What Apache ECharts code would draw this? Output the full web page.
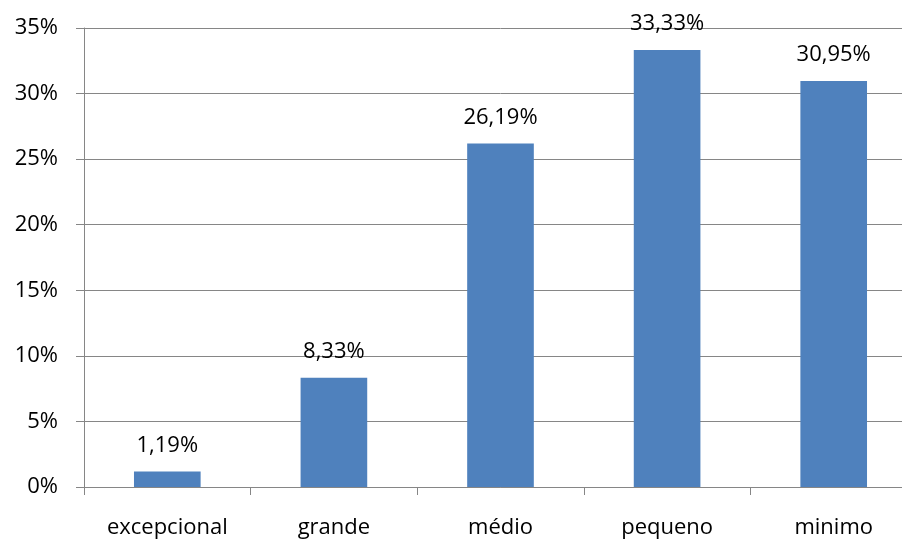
<!DOCTYPE html>
<html>
<head>
<meta charset="utf-8">
<script src="https://cdn.jsdelivr.net/npm/echarts@6/dist/echarts.min.js"></script>
<style>
  html, body { margin: 0; padding: 0; background: #ffffff; overflow: hidden; }
  #wrap { width: 902px; height: 541px; overflow: hidden; }
  #chart { width: 917px; height: 541px; }
</style>
</head>
<body>
<div id="wrap"><div id="chart"></div></div>
<script>
// Categories and shares (percent)
const categories = ['excepcional', 'grande', 'médio', 'pequeno', 'minimo'];
const shares = [1.19, 8.33, 26.19, 33.33, 30.95];
const yTicks = [0, 5, 10, 15, 20, 25, 30, 35];

const fontFamily = 'Open Sans, Liberation Sans, sans-serif';
const gray = '#868686';
const fontSize = 22;

const chart = echarts.init(document.getElementById('chart'), null, { renderer: 'canvas' });
chart.setOption({
  animation: false,
  grid: { left: 84, right: 0, top: 28, bottom: 54, containLabel: false },
  xAxis: {
    type: 'category',
    data: categories,
    axisLine: { lineStyle: { color: gray, width: 1 } },
    axisTick: { show: true, length: 8, lineStyle: { color: gray } },
    axisLabel: { color: '#000', fontSize: fontSize, fontFamily: fontFamily, margin: 30 },
    splitLine: { show: false }
  },
  yAxis: {
    type: 'value',
    min: yTicks[0],
    max: yTicks[yTicks.length - 1],
    interval: 5,
    axisLine: { show: true, lineStyle: { color: gray, width: 1 } },
    axisTick: { show: true, length: 8, lineStyle: { color: gray } },
    axisLabel: {
      color: '#000', fontSize: fontSize, fontFamily: fontFamily, margin: 26,
      formatter: v => v + '%'
    },
    splitLine: { show: true, lineStyle: { color: gray, width: 1 } }
  },
  series: [{
    type: 'bar',
    data: shares,
    barWidth: '40%',
    itemStyle: { color: '#4F81BD' },
    label: {
      show: true,
      position: 'top',
      distance: 15,
      color: '#000',
      fontSize: fontSize,
      fontFamily: fontFamily,
      formatter: p => p.value.toFixed(2).replace('.', ',') + '%'
    }
  }]
});
</script>
</body>
</html>
